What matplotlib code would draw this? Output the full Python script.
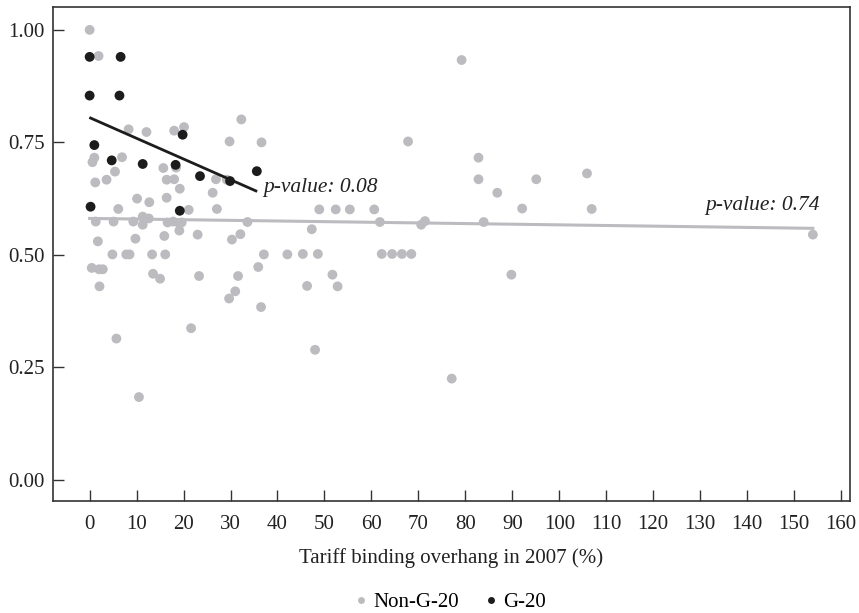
import matplotlib
matplotlib.use("Agg")
import matplotlib.pyplot as plt
import numpy as np
from matplotlib.lines import Line2D

plt.rcParams['font.family'] = ['Liberation Serif', 'DejaVu Serif']

# Non-G-20 countries: tariff binding overhang (%) vs share
non_g20_x = [0, 1.9, 8.3, 12.1, 18.0, 20.1, 32.3, 29.8, 36.6, 1.0, 0.6, 6.9, 5.4, 3.6, 1.2,
             15.7, 18.4, 16.4, 18.0, 26.9, 29.2, 19.2, 26.2, 10.1, 12.7, 16.4, 6.1, 21.1, 27.1,
             11.3, 1.3, 5.1, 9.3, 12.6, 11.3, 16.6, 17.8, 19.1, 19.6, 19.1, 23.0, 33.6, 30.3,
             32.1, 1.75, 9.75, 15.9, 4.85, 7.8, 8.5, 13.3, 16.1, 37.1, 42.1, 45.4, 48.6, 62.2,
             64.4, 66.5, 68.5, 0.45, 2.0, 2.8, 2.1, 13.5, 15.0, 35.9, 23.3, 31.6, 31.0, 29.7,
             36.5, 21.6, 5.7, 10.5, 79.2, 67.8, 82.8, 82.8, 86.8, 95.1, 105.9, 92.1, 106.9,
             48.9, 52.4, 55.4, 60.6, 61.8, 70.6, 71.4, 83.9, 47.3, 51.7, 46.3, 52.8, 89.8,
             48.0, 77.1, 154.0]
non_g20_y = [1.00, 0.942, 0.779, 0.773, 0.776, 0.784, 0.801, 0.752, 0.750, 0.716, 0.706, 0.717,
             0.685, 0.667, 0.661, 0.693, 0.694, 0.667, 0.668, 0.668, 0.667, 0.647, 0.638, 0.625,
             0.617, 0.627, 0.602, 0.600, 0.602, 0.585, 0.574, 0.574, 0.574, 0.581, 0.567, 0.572,
             0.574, 0.570, 0.572, 0.554, 0.545, 0.573, 0.534, 0.546, 0.530, 0.536, 0.542, 0.501,
             0.501, 0.501, 0.501, 0.501, 0.501, 0.501, 0.502, 0.502, 0.502, 0.502, 0.502, 0.502,
             0.471, 0.468, 0.468, 0.430, 0.458, 0.447, 0.473, 0.453, 0.453, 0.419, 0.403, 0.384,
             0.337, 0.314, 0.184, 0.933, 0.752, 0.716, 0.668, 0.638, 0.668, 0.681, 0.603, 0.602,
             0.601, 0.601, 0.601, 0.601, 0.573, 0.567, 0.575, 0.573, 0.557, 0.456, 0.431, 0.430,
             0.456, 0.289, 0.225, 0.545]

# G-20 countries
g20_x = [0, 6.6, 0, 6.35, 1.0, 4.7, 11.3, 18.3, 0.2, 19.2, 19.8, 23.5, 29.9, 35.6]
g20_y = [0.94, 0.94, 0.854, 0.854, 0.744, 0.710, 0.702, 0.700, 0.607, 0.598, 0.767, 0.675,
         0.664, 0.686]

# Fitted regression lines (intercept, slope, x-range)
non_g20_fit = dict(intercept=0.581, slope=-0.000143, xmin=0.0, xmax=154.0)
g20_fit = dict(intercept=0.805, slope=-0.0046, xmin=0.2, xmax=35.4)

x_ticks = list(range(0, 161, 10))
y_ticks = [0.00, 0.25, 0.50, 0.75, 1.00]

gray = '#bcbcc0'
dark = '#1c1c1c'

fig = plt.figure(figsize=(8.59, 6.13), dpi=100)
ax = fig.add_axes([0.0617, 0.1827, 0.9278, 0.806])

ax.scatter(non_g20_x, non_g20_y, s=50, color=gray, edgecolors='none', zorder=2)
fx = np.array([non_g20_fit['xmin'], non_g20_fit['xmax']])
ax.plot(fx, non_g20_fit['intercept'] + non_g20_fit['slope'] * fx, color=gray, lw=2.2, zorder=3)
ax.scatter(g20_x, g20_y, s=50, color=dark, edgecolors='none', zorder=4)
gx = np.array([g20_fit['xmin'], g20_fit['xmax']])
ax.plot(gx, g20_fit['intercept'] + g20_fit['slope'] * gx, color=dark, lw=2.0, zorder=5)

ax.text(36.9, 0.649, 'p-value: 0.08', style='italic', fontsize=15.5, color='#222222',
        va='center', ha='left')
ax.text(155.5, 0.609, 'p-value: 0.74', style='italic', fontsize=15.5, color='#222222',
        va='center', ha='right')

ax.set_xlim(-7.8, 161.9)
ax.set_ylim(-0.047, 1.051)
ax.set_xticks(x_ticks)
ax.set_xticklabels([str(t) for t in x_ticks])
ax.set_yticks(y_ticks)
ax.set_yticklabels([f'{t:.2f}' for t in y_ticks])
ax.tick_params(axis='both', direction='in', length=8, width=1.0, labelsize=15,
               color='#333333', labelcolor='#222222')
ax.tick_params(axis='x', pad=10)
ax.tick_params(axis='y', pad=6)
for sp in ax.spines.values():
    sp.set_color('#333333')
    sp.set_linewidth(1.2)

ax.set_xlabel('Tariff binding overhang in 2007 (%)', fontsize=15, color='#222222', labelpad=10)

handles = [Line2D([], [], marker='o', ls='none', color=gray, markersize=5, markeredgewidth=0),
           Line2D([], [], marker='o', ls='none', color=dark, markersize=5, markeredgewidth=0)]
fig.legend(handles, ['Non-G-20', 'G-20'], loc='center', bbox_to_anchor=(0.522, 0.017),
           ncol=2, frameon=False, fontsize=15, handletextpad=0.1, columnspacing=1.0,
           handlelength=1.0)

fig.savefig('out.png', dpi=100)
